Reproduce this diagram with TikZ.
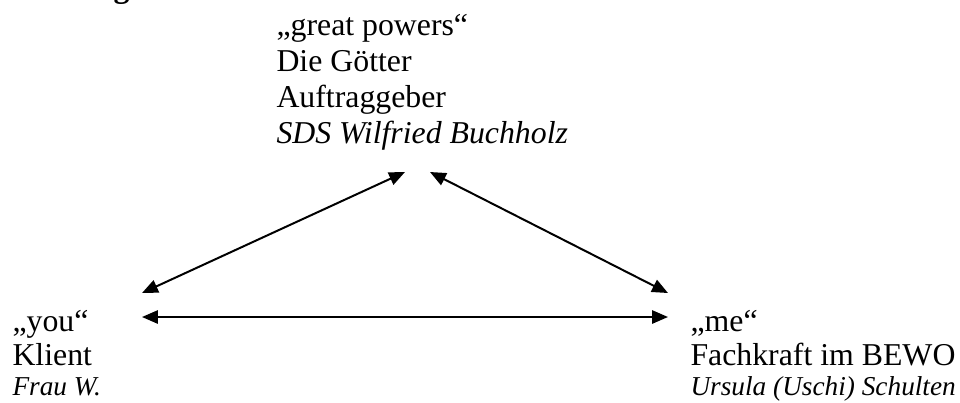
\documentclass[tikz,border=0pt]{standalone}
\usepackage{fontspec}
\setmainfont{Liberation Serif}
\usetikzlibrary{arrows.meta,positioning}

\tikzset{
  txt/.style={anchor=base west, inner sep=0pt, font=\fontsize{12}{13.6}\selectfont},
  smalltxt/.style={txt, font=\fontsize{10.3}{11.8}\selectfont\itshape},
  link/.style={line width=0.75pt,
    {Triangle[length=6pt,width=5pt]}-{Triangle[length=6pt,width=5pt]}},
}

\begin{document}
\begin{tikzpicture}[x=0.3774pt,y=-0.3774pt]
\useasboundingbox (0,0) rectangle (960,402);

% heading, cut off at the top edge
\node[txt, font=\fontsize{12}{13.6}\selectfont\bfseries] (Head) at (113,-3) {g};

% the great powers
\node[txt] (GpA) at (276,35) {„great powers“};
\node[txt] (GpB) at (276,71) {Die Götter};
\node[txt] (GpC) at (276,107) {Auftraggeber};
\node[txt, font=\fontsize{12}{13.6}\selectfont\itshape] (GpD) at (276,143) {SDS Wilfried Buchholz};

% you
\node[txt] (YouA) at (12,331) {„you“};
\node[txt] (YouB) at (12,365) {Klient};
\node[smalltxt] (YouC) at (12,395) {Frau W.};

% me
\node[txt] (MeA) at (690,331) {„me“};
\node[txt] (MeB) at (690,365) {Fachkraft im BEWO};
\node[smalltxt] (MeC) at (690,395) {Ursula (Uschi) Schulten};

% ends of the arrows
\coordinate (GpL) at (405,172);
\coordinate (GpR) at (430,172);
\coordinate (YouT) at (142,293);
\coordinate (YouM) at (142,317);
\coordinate (MeT) at (668,293);
\coordinate (MeM) at (668,317);

\draw[link] (YouT) -- (GpL);
\draw[link] (GpR) -- (MeT);
\draw[link] (YouM) -- (MeM);

\end{tikzpicture}
\end{document}
